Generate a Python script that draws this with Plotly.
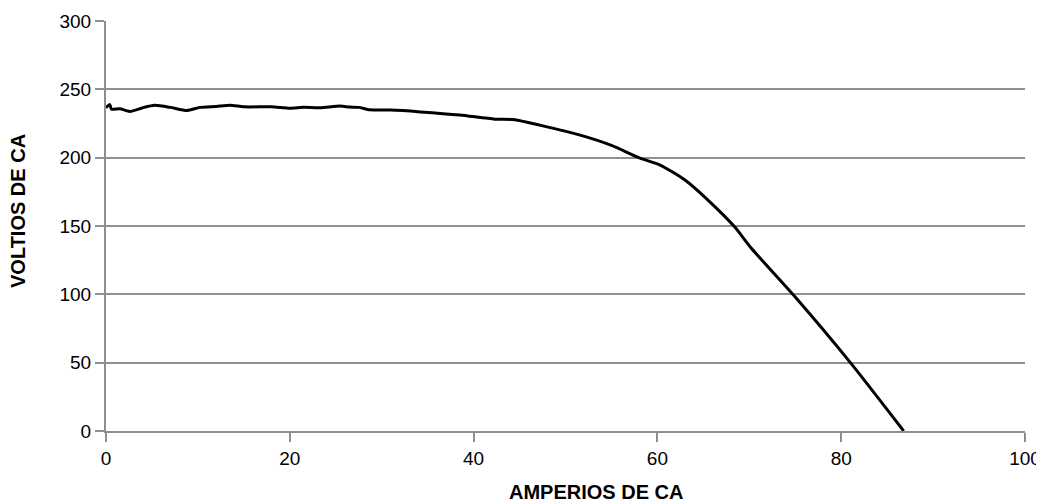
import plotly.graph_objects as go

amps = [0.0, 0.4, 0.6, 1.5, 2.6, 4.0, 5.3, 7.0, 8.8, 10.2, 12.0, 13.5, 15.0, 18.0, 20.0, 21.5, 23.3, 25.5, 26.5, 27.5, 28.7, 31.0, 34.2, 38.5, 42.3, 44.5, 47.2, 51.6, 55.0, 58.1, 60.3, 63.0, 65.7, 68.4, 70.2, 75.0, 81.0, 86.8]
volts = [236.5, 239.0, 235.5, 235.8, 233.8, 236.5, 238.3, 236.8, 234.5, 236.8, 237.5, 238.3, 237.2, 237.2, 236.2, 236.8, 236.5, 237.8, 237.0, 236.8, 235.0, 234.8, 233.5, 231.2, 228.2, 227.8, 223.8, 216.5, 209.0, 199.7, 194.6, 183.6, 167.7, 149.4, 133.9, 98.0, 50.0, 0.0]

x_ticks = [0, 20, 40, 60, 80, 100]
y_ticks = [0, 50, 100, 150, 200, 250, 300]
x_title = "AMPERIOS DE CA"
y_title = "VOLTIOS DE CA"

fig = go.Figure()
fig.add_trace(go.Scatter(x=amps, y=volts, mode="lines",
                         line=dict(color="black", width=3, shape="spline", smoothing=0.6),
                         hoverinfo="skip", showlegend=False))

grid_col = "#8f8f8f"
# page has an 8px body margin: plot area spans page x 106..1025, y 21..431
fig.update_layout(
    width=1036, height=496,
    margin=dict(l=98, r=19, t=13, b=73),
    paper_bgcolor="white", plot_bgcolor="white",
    font=dict(family="Liberation Sans, Arial, sans-serif", size=19, color="black"),
)
fig.update_xaxes(range=[0, 100], tickvals=x_ticks, showgrid=False, zeroline=False,
                 showline=True, linecolor=grid_col, linewidth=2, automargin=False,
                 ticks="outside", ticklen=9, tickwidth=2, tickcolor=grid_col)
fig.update_yaxes(range=[0, 300], tickvals=y_ticks, showgrid=True, gridcolor=grid_col, gridwidth=2,
                 zeroline=False, showline=True, linecolor=grid_col, linewidth=2, automargin=False,
                 ticks="outside", ticklen=9, tickwidth=2, tickcolor=grid_col)
fig.add_annotation(text="<b>" + x_title + "</b>", xref="paper", yref="paper",
                   x=(596 - 106) / (1025 - 106), y=-(492 - 431) / 410,
                   xanchor="center", yanchor="middle", showarrow=False,
                   font=dict(size=20))
fig.add_annotation(text="<b>" + y_title + "</b>", xref="paper", yref="paper",
                   x=-(106 - 18) / 919, y=(431 - 211) / 410, textangle=-90,
                   xanchor="center", yanchor="middle", showarrow=False,
                   font=dict(size=20))
fig.write_html("out.html")
